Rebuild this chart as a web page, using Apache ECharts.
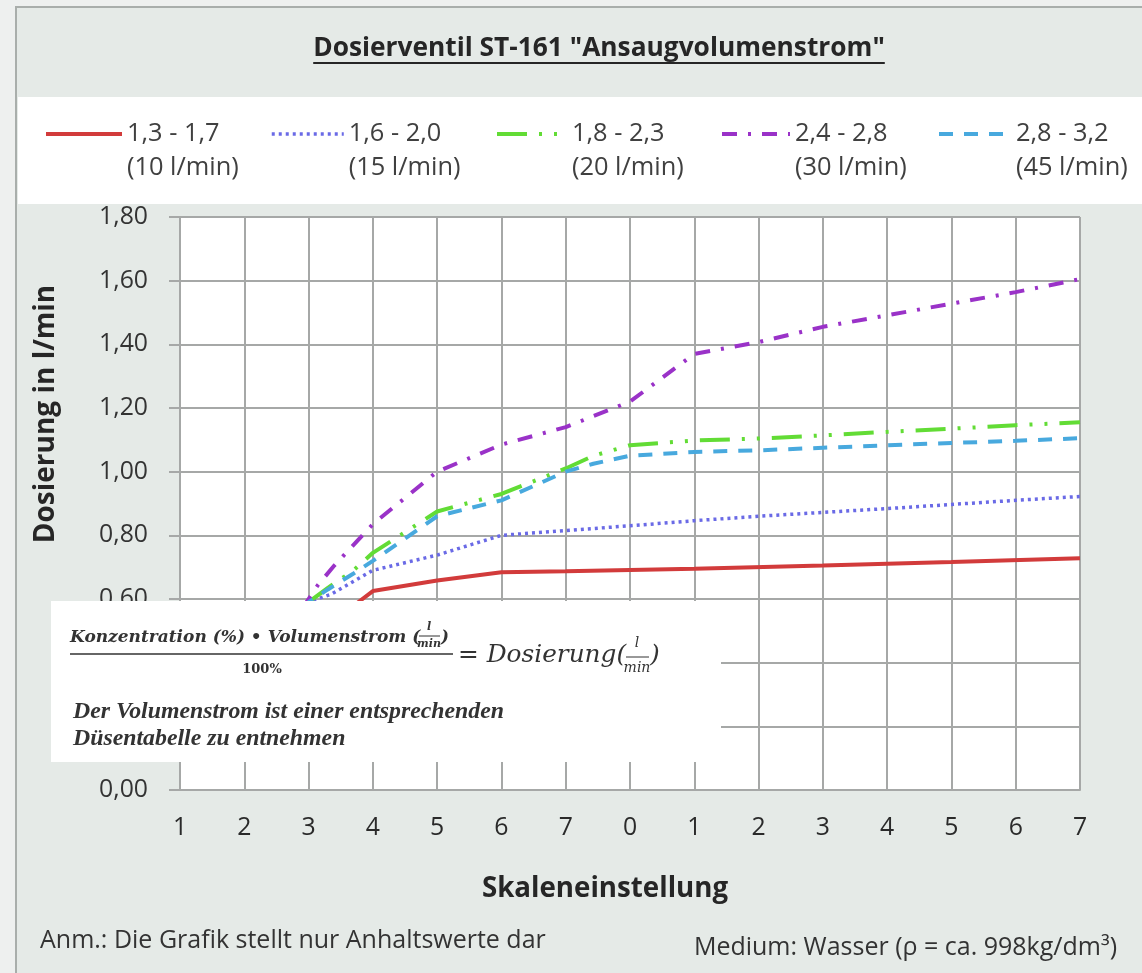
<!DOCTYPE html>
<html>
<head>
<meta charset="utf-8">
<title>Dosierventil ST-161</title>
<script src="https://cdn.jsdelivr.net/npm/echarts@6/dist/echarts.min.js"></script>
<style>
html, body { margin: 0; padding: 0; background: #eef0ef; }
#chart { width: 1142px; height: 973px; }
</style>
</head>
<body>
<div id="chart"></div>
<script>
// Skalenbeschriftung so wie im Original abgedruckt
var xLabels = ['1', '2', '3', '4', '5', '6', '7', '0', '1', '2', '3', '4', '5', '6', '7'];

// Dosierung in l/min, je Kurve [Skalenposition, Wert]
var dos_10 = [[2.6, 0.56], [2.74, 0.585], [3, 0.625], [4, 0.658], [5, 0.684], [6, 0.687], [8, 0.695], [10, 0.705], [12, 0.716], [14, 0.728]];
var dos_15 = [[1.9, 0.57], [2, 0.59], [2.35, 0.615], [3, 0.69], [4, 0.738], [5, 0.80], [6, 0.815], [7, 0.83], [8, 0.846], [9, 0.86], [10, 0.872], [11, 0.884], [12, 0.897], [13, 0.91], [14, 0.922]];
var dos_20 = [[2, 0.59], [2.3, 0.635], [2.7, 0.69], [3, 0.745], [4, 0.875], [5, 0.93], [6, 1.01], [6.43, 1.05], [7, 1.083], [8, 1.098], [9, 1.104], [10, 1.114], [11, 1.125], [12, 1.135], [13, 1.146], [14, 1.155]];
var dos_30 = [[1.9, 0.57], [2, 0.6], [2.15, 0.645], [2.4, 0.705], [3, 0.835], [4, 1.0], [5, 1.085], [6, 1.14], [7, 1.22], [8, 1.37], [9, 1.407], [10, 1.455], [11, 1.491], [12, 1.528], [13, 1.564], [14, 1.605]];
var dos_45 = [[1.9, 0.57], [2, 0.59], [2.3, 0.63], [2.7, 0.68], [3, 0.72], [4, 0.86], [5, 0.91], [6, 1.0], [6.43, 1.025], [7, 1.05], [8, 1.062], [9, 1.067], [10, 1.075], [11, 1.083], [12, 1.09], [13, 1.097], [14, 1.105]];

var names = ['1,3 - 1,7', '1,6 - 2,0', '1,8 - 2,3', '2,4 - 2,8', '2,8 - 3,2'];
var flows = ['(10 l/min)', '(15 l/min)', '(20 l/min)', '(30 l/min)', '(45 l/min)'];

var colors = ['#d23b3b', '#6a6ae6', '#62dc35', '#9a32c8', '#48a9de'];
var dashes = ['solid', [3, 4], [30, 12, 3, 12, 3, 12], [15, 11, 3, 11], [14, 11]];
var widths = [4, 3.5, 4, 4, 4];
var allData = [dos_10, dos_15, dos_20, dos_30, dos_45];

// Legende: Position der Einträge
var legendLeft = [39, 265, 490, 715, 932];
var legendIconW = [76, 72, 70, 68, 72];

var FONT = 'Open Sans';
var SERIF = 'DejaVu Serif';
var SERIF2 = 'Liberation Serif';
var title = 'Dosierventil ST-161 "Ansaugvolumenstrom"';
var yName = 'Dosierung in l/min';
var xName = 'Skaleneinstellung';
var noteLeft = 'Anm.: Die Grafik stellt nur Anhaltswerte dar';
var noteRight = 'Medium: Wasser (\u03c1 = ca. 998kg/dm\u00b3)';

var ctx = document.createElement('canvas').getContext('2d');
function textWidth(txt, font) {
  ctx.font = font;
  return ctx.measureText(txt).width;
}
// Schriftgröße so wählen, dass der Text die Breite wie im Original hat
function fit(txt, pre, family, w) {
  return Math.round(w / textWidth(txt, pre + ' 100px ' + family) * 1000) / 10;
}

var titleSize = fit(title, 'bold', FONT, 572);
var titleFont = 'bold ' + titleSize + 'px ' + FONT;
var titleW = textWidth(title, titleFont);
var titleX = 599;
var axisNameY = fit(yName, 'bold', FONT, 258);
var axisNameX = fit(xName, 'bold', FONT, 246);
var noteSize = fit(noteLeft, 'normal', FONT, 505);
var tickSize = fit('1,80', 'normal', FONT, 49);
var legendSize = fit('(10 l/min)', 'normal', FONT, 112);

var numSize = fit('Konzentration (%) \u2022 Volumenstrom (', 'italic bold', SERIF, 350);
var eqSize = fit('= Dosierung(', 'italic', SERIF, 168);
var txtSize = fit('Der Volumenstrom ist einer entsprechenden', 'italic bold', SERIF2, 431);

var myChart = echarts.init(document.getElementById('chart'));

myChart.setOption({
  backgroundColor: 'transparent',
  animation: false,
  grid: {
    left: 180, right: 62, top: 217, bottom: 183,
    show: true, backgroundColor: '#fff', borderWidth: 0
  },
  legend: names.map(function (n, i) {
    return {
      data: [n],
      left: legendLeft[i],
      top: 78,
      padding: 5,
      itemWidth: legendIconW[i],
      itemHeight: 14,
      selectedMode: false,
      itemStyle: { opacity: 0 },
      lineStyle: { width: widths[i] },
      // leere erste Zeile, damit die Linie auf Höhe der ersten Textzeile sitzt
      formatter: function (name) {
        return '\n' + name + '\n' + flows[names.indexOf(name)];
      },
      textStyle: {
        fontFamily: FONT, fontSize: legendSize, color: '#404040', lineHeight: 34
      }
    };
  }),
  xAxis: {
    type: 'value',
    min: 0, max: 14, interval: 1,
    axisLine: { lineStyle: { color: '#a6a8a7', width: 2 } },
    axisTick: { show: false },
    splitLine: { show: true, lineStyle: { color: '#a6a8a7', width: 2 } },
    axisLabel: {
      margin: 25,
      fontFamily: FONT, fontSize: tickSize, color: '#2a2a2a',
      formatter: function (v) { return xLabels[v]; }
    }
  },
  yAxis: {
    type: 'value',
    min: 0, max: 1.8, interval: 0.2,
    axisLine: { show: false },
    axisTick: { show: true, length: 11, lineStyle: { color: '#a6a8a7', width: 2 } },
    splitLine: { show: true, lineStyle: { color: '#a6a8a7', width: 2 } },
    axisLabel: {
      margin: 32,
      fontFamily: FONT, fontSize: tickSize, color: '#333',
      formatter: function (v) { return v.toFixed(2).replace('.', ','); }
    }
  },
  series: names.map(function (n, i) {
    return {
      name: n,
      type: 'line',
      data: allData[i],
      symbol: 'none',
      z: 3,
      lineStyle: { color: colors[i], width: widths[i], type: dashes[i] },
      itemStyle: { color: colors[i] }
    };
  }),
  graphic: [
    // Hintergrund mit Rahmen
    { type: 'rect', z: -20, silent: true,
      shape: { x: 16, y: 7, width: 1140, height: 980 },
      style: { fill: '#e5eae7', stroke: '#a9aeab', lineWidth: 2 } },
    // weißes Legendenband
    { type: 'rect', z: -19, silent: true,
      shape: { x: 18, y: 97, width: 1130, height: 107 },
      style: { fill: '#fff' } },
    // Titel mit Unterstreichung
    { type: 'text', z: 10, x: titleX, y: 49,
      style: { text: title, font: titleFont, fill: '#262626', align: 'center', verticalAlign: 'middle' } },
    { type: 'line', z: 10,
      shape: { x1: titleX - titleW / 2, y1: 63, x2: titleX + titleW / 2, y2: 63 },
      style: { stroke: '#262626', lineWidth: 2 } },
    // Achsentitel
    { type: 'text', z: 10, x: 46, y: 414, rotation: Math.PI / 2,
      style: { text: yName, font: 'bold ' + axisNameY + 'px ' + FONT, fill: '#262626', align: 'center', verticalAlign: 'middle' } },
    { type: 'text', z: 10, x: 605, y: 889,
      style: { text: xName, font: 'bold ' + axisNameX + 'px ' + FONT, fill: '#262626', align: 'center', verticalAlign: 'middle' } },
    // Formel-Kasten
    { type: 'rect', z: 100, silent: true,
      shape: { x: 51, y: 601, width: 670, height: 161 },
      style: { fill: '#fff' } },
    { type: 'text', z: 101, x: 70, y: 638,
      style: { text: 'Konzentration (%) \u2022 Volumenstrom (', font: 'italic bold ' + numSize + 'px ' + SERIF, fill: '#333', verticalAlign: 'middle' } },
    { type: 'text', z: 101, x: 429, y: 627,
      style: { text: 'l', font: 'italic bold 11px ' + SERIF, fill: '#333', align: 'center', verticalAlign: 'middle' } },
    { type: 'line', z: 101, shape: { x1: 419, y1: 636, x2: 440, y2: 636 }, style: { stroke: '#333', lineWidth: 1 } },
    { type: 'text', z: 101, x: 429, y: 644,
      style: { text: 'min', font: 'italic bold 11px ' + SERIF, fill: '#333', align: 'center', verticalAlign: 'middle' } },
    { type: 'text', z: 101, x: 441, y: 638,
      style: { text: ')', font: 'italic bold ' + numSize + 'px ' + SERIF, fill: '#333', verticalAlign: 'middle' } },
    { type: 'line', z: 101, shape: { x1: 70, y1: 654, x2: 453, y2: 654 }, style: { stroke: '#333', lineWidth: 1.5 } },
    { type: 'text', z: 101, x: 262, y: 670,
      style: { text: '100%', font: 'bold 13px ' + SERIF, fill: '#333', align: 'center', verticalAlign: 'middle' } },
    { type: 'text', z: 101, x: 458, y: 656,
      style: { text: '= Dosierung(', font: 'italic ' + eqSize + 'px ' + SERIF, fill: '#333', verticalAlign: 'middle' } },
    { type: 'text', z: 101, x: 637, y: 643,
      style: { text: 'l', font: 'italic 14px ' + SERIF, fill: '#333', align: 'center', verticalAlign: 'middle' } },
    { type: 'line', z: 101, shape: { x1: 626, y1: 657, x2: 649, y2: 657 }, style: { stroke: '#333', lineWidth: 1 } },
    { type: 'text', z: 101, x: 637, y: 668,
      style: { text: 'min', font: 'italic 14px ' + SERIF, fill: '#333', align: 'center', verticalAlign: 'middle' } },
    { type: 'text', z: 101, x: 650, y: 656,
      style: { text: ')', font: 'italic ' + eqSize + 'px ' + SERIF, fill: '#333', verticalAlign: 'middle' } },
    { type: 'text', z: 101, x: 73, y: 712,
      style: { text: 'Der Volumenstrom ist einer entsprechenden', font: 'italic bold ' + txtSize + 'px ' + SERIF2, fill: '#333', verticalAlign: 'middle' } },
    { type: 'text', z: 101, x: 73, y: 739,
      style: { text: 'D\u00fcsentabelle zu entnehmen', font: 'italic bold ' + txtSize + 'px ' + SERIF2, fill: '#333', verticalAlign: 'middle' } },
    // Fußzeilen
    { type: 'text', z: 10, x: 40, y: 941,
      style: { text: noteLeft, font: noteSize + 'px ' + FONT, fill: '#333', verticalAlign: 'middle' } },
    { type: 'text', z: 10, x: 1117, y: 948,
      style: { text: noteRight, font: noteSize + 'px ' + FONT, fill: '#333', align: 'right', verticalAlign: 'middle' } }
  ]
});
</script>
</body>
</html>
